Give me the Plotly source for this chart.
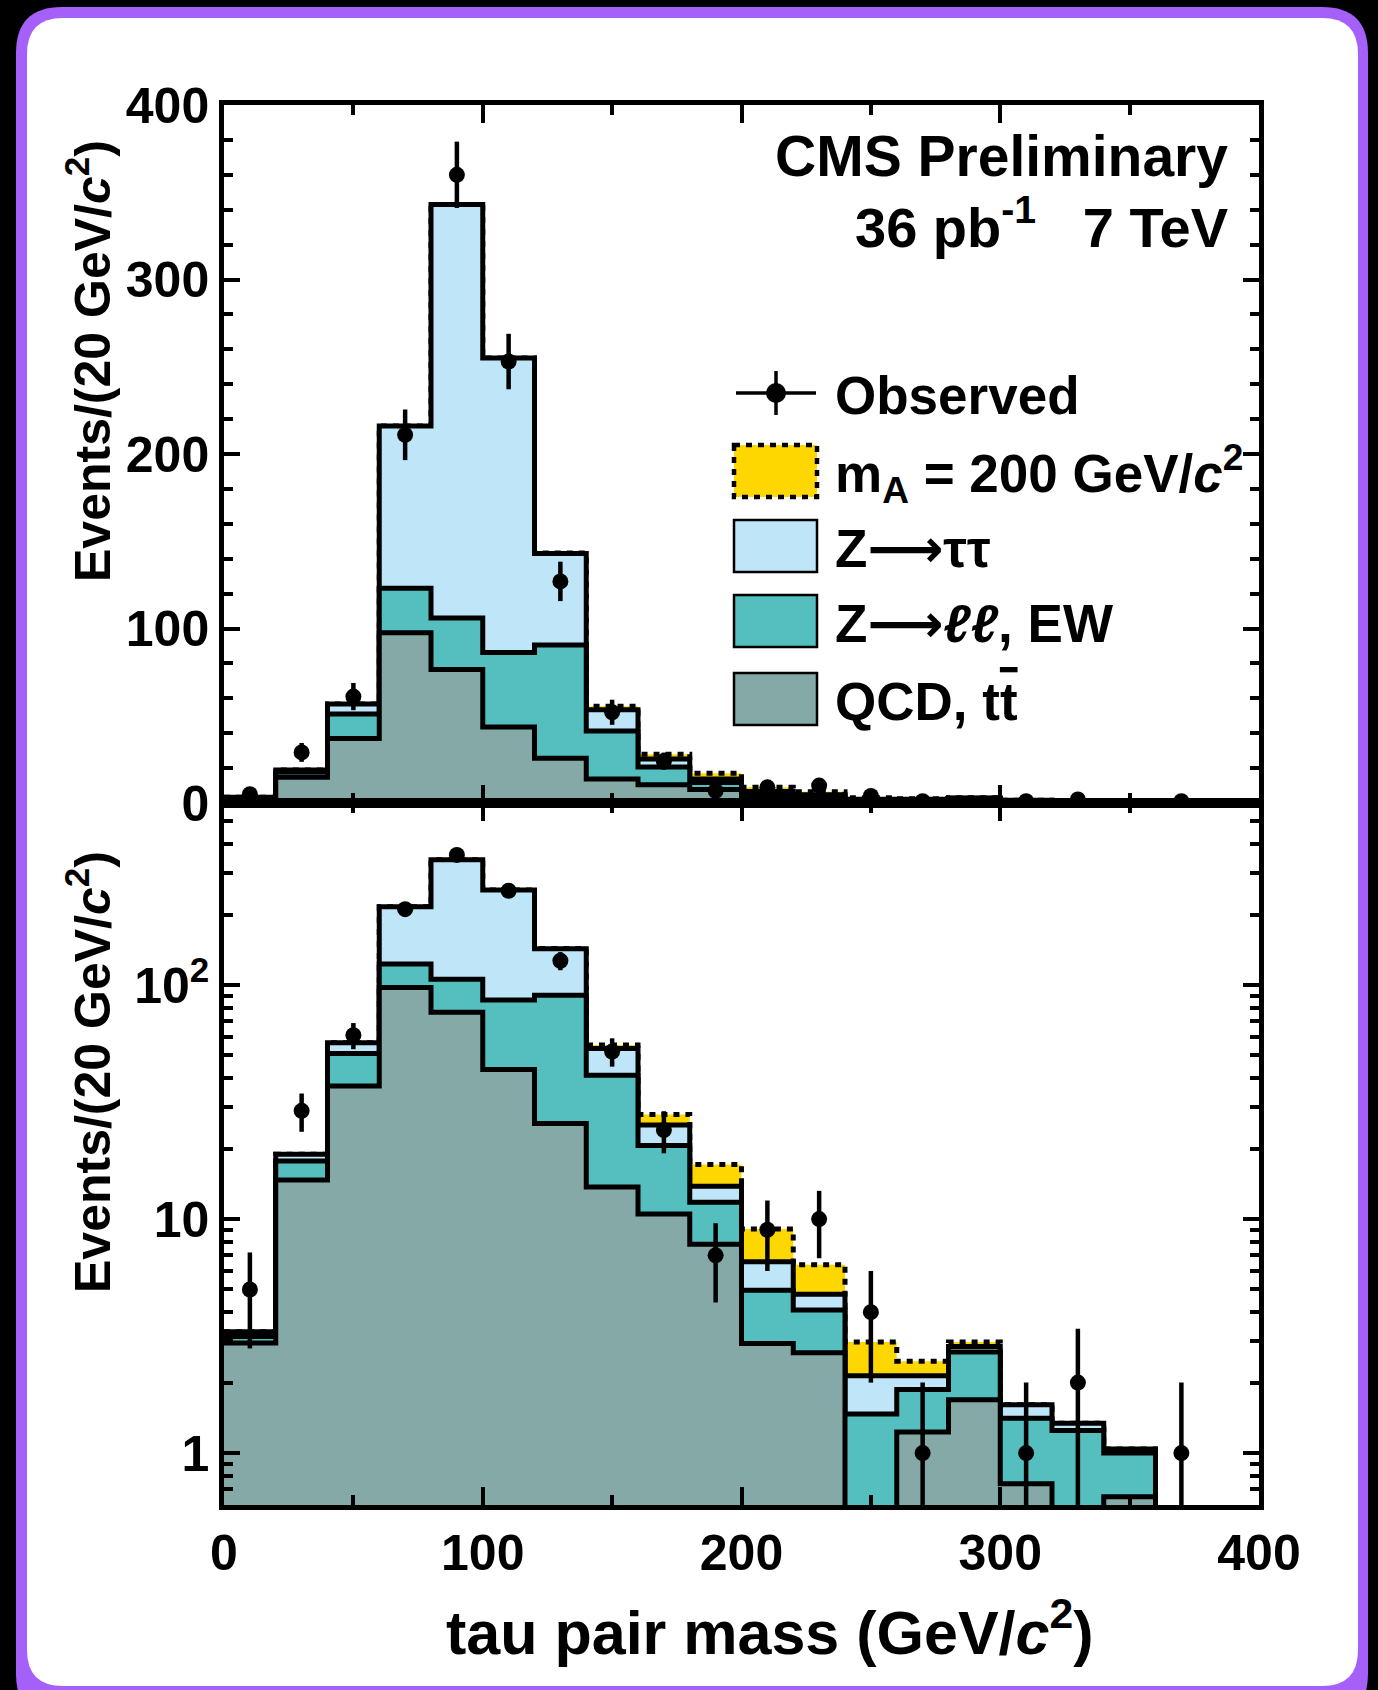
import numpy as np
import plotly.graph_objects as go
from plotly.subplots import make_subplots

# ---------------- data ----------------
mass_edges = [0, 20, 40, 60, 80, 100, 120, 140, 160, 180, 200,
              220, 240, 260, 280, 300, 320, 340, 360, 380, 400]
qcd_ttbar = [2.95, 14.7, 37.0, 97.5, 76.5, 43.6, 25.6, 13.7, 10.5, 7.8,
             2.94, 2.68, 0.0, 1.23, 1.69, 0.74, 0.0, 0.65, 0.0, 0.0]
zll_ew = [0.20, 3.0, 14.0, 25.5, 29.5, 42.7, 64.9, 27.5, 10.1, 4.0,
          2.02, 1.41, 1.47, 0.64, 1.01, 0.67, 1.25, 0.35, 0.0, 0.0]
ztautau = [0.15, 1.2, 5.7, 93.0, 237.0, 168.7, 52.5, 12.3, 4.6, 2.0,
           1.61, 0.68, 0.67, 0.27, 0.15, 0.20, 0.09, 0.04, 0.0, 0.0]
signal_mA200 = [0.0, 0.0, 0.0, 0.0, 0.0, 0.0, 0.3, 2.0, 2.8, 3.3,
                2.5, 1.61, 0.84, 0.33, 0.13, 0.0, 0.0, 0.0, 0.0, 0.0]
observed = [5, 29, 61, 211, 360, 253, 127, 52, 24, 7,
            9, 10, 4, 1, 0, 1, 2, 0, 1, 0]
observed_err = [2.2, 5.4, 7.8, 14.5, 19.0, 15.9, 11.3, 7.2, 4.9, 2.6,
                3.0, 3.2, 2.0, 1.0, 0.0, 1.0, 1.4, 0.0, 1.0, 0.0]

ARROW = "<span style=\"font-family:'DejaVu Sans'\">\u27f6</span>"
legend_labels = ["Observed",
                 "m<sub>A</sub> = 200 GeV/<i>c</i><sup>2</sup>",
                 "Z" + ARROW + "\u03c4\u03c4",
                 "Z" + ARROW + "<i>\u2113\u2113</i>, EW",
                 "QCD, t<span style=\"text-decoration:overline\">t</span>"]

col_sig = "#FFD700"
col_ztt = "#BEE6F8"
col_zll = "#55BEBE"
col_qcd = "#84A9A6"
FONT = "Liberation Sans"

# stacking
edges = np.array(mass_edges, float)
centers = 0.5 * (edges[:-1] + edges[1:])
c_qcd = np.array(qcd_ttbar)
c_zll = c_qcd + np.array(zll_ew)
c_ztt = c_zll + np.array(ztautau)
c_sig = c_ztt + np.array(signal_mA200)

# ---------------- geometry ----------------
W, H = 1378, 1690
L, R, T, B = 224, 1259, 105, 1505
PW, PH = R - L, B - T


def px(x):
    return (x - L) / PW


def py(y):
    return (B - y) / PH


split = py(803)

fig = make_subplots(rows=2, cols=1, vertical_spacing=0.0)


def step_y(vals, floor=None):
    v = np.array(vals, float)
    if floor is not None:
        v = np.where(v > 0, v, floor)
    return np.append(v, v[-1])


layers = [(c_sig, col_sig, "6px,6px"), (c_ztt, col_ztt, "solid"),
          (c_zll, col_zll, "solid"), (c_qcd, col_qcd, "solid")]

for row, floor in [(1, None), (2, 1e-3)]:
    for vals, col, dash in layers:
        fig.add_trace(go.Scatter(
            x=edges, y=step_y(vals, floor), mode="lines",
            line=dict(shape="hv", color="black", width=5, dash=dash),
            fill="tozeroy", fillcolor=col, showlegend=False, hoverinfo="skip"),
            row=row, col=1)
    obs_y = [v if v > 0 else None for v in observed]
    fig.add_trace(go.Scatter(
        x=centers, y=obs_y, mode="markers",
        marker=dict(color="black", size=16),
        error_y=dict(type="data", array=observed_err, color="black",
                     thickness=4.5, width=0),
        showlegend=False), row=row, col=1)

tickfont = dict(family=FONT, size=50, color="black", weight="bold")
axis_common = dict(showline=True, linewidth=4.5, linecolor="black",
                   mirror="ticks", ticks="inside", tickwidth=4,
                   tickcolor="black", showgrid=False, zeroline=False,
                   tickfont=tickfont)

fig.update_xaxes(range=[0, 400], tick0=0, dtick=100, ticklen=18,
                 minor=dict(dtick=50, tick0=0, ticklen=10, ticks="inside",
                            tickwidth=4, tickcolor="black"),
                 **axis_common)
fig.update_xaxes(showticklabels=False, row=1, col=1)

fig.update_yaxes(range=[0, 400], tick0=0, dtick=100, ticklen=16,
                 minor=dict(dtick=20, tick0=0, ticklen=9, ticks="inside",
                            tickwidth=4, tickcolor="black"),
                 domain=[split, 1.0], row=1, col=1, **axis_common)

minor_log = [0.6, 0.7, 0.8, 0.9] + [k for k in range(2, 10)] + \
            [10 * k for k in range(2, 10)] + [100 * k for k in range(2, 7)]
fig.update_yaxes(type="log", range=[-0.222, 2.778],
                 tickmode="array", tickvals=[1, 10, 100],
                 ticktext=["1", "10", "10<sup>2</sup>"], ticklen=16,
                 minor=dict(tickmode="array", tickvals=minor_log, ticklen=9,
                            ticks="inside", tickwidth=4, tickcolor="black"),
                 domain=[0.0, split], row=2, col=1, **axis_common)


# ---------------- frame (rounded purple border) ----------------
def rounded_path(x0, y0, x1, y1, r):
    pts = [("M", [(x0 + r, y0)]), ("L", [(x1 - r, y0)]),
           ("Q", [(x1, y0), (x1, y0 + r)]), ("L", [(x1, y1 - r)]),
           ("Q", [(x1, y1), (x1 - r, y1)]), ("L", [(x0 + r, y1)]),
           ("Q", [(x0, y1), (x0, y1 - r)]), ("L", [(x0, y0 + r)]),
           ("Q", [(x0, y0), (x0 + r, y0)])]
    s = ""
    for cmd, ps in pts:
        s += cmd + " " + " ".join(f"{px(a):.5f},{py(b):.5f}" for a, b in ps) + " "
    return s + "Z"


shapes = [
    dict(type="path", xref="paper", yref="paper", layer="below",
         path=rounded_path(16, 7, 1368, 1720, 46), fillcolor="#A560FA",
         line=dict(width=0)),
    dict(type="path", xref="paper", yref="paper", layer="below",
         path=rounded_path(27, 18, 1358, 1686, 36), fillcolor="white",
         line=dict(width=0)),
]

# ---------------- custom legend ----------------
row_y = [393, 471, 546, 621, 699]
bx0, bx1 = 734, 817
shapes.append(dict(type="line", xref="paper", yref="paper",
                   x0=px(bx0 + 2), x1=px(bx1 - 1), y0=py(row_y[0]), y1=py(row_y[0]),
                   line=dict(color="black", width=3.5)))
shapes.append(dict(type="line", xref="paper", yref="paper",
                   x0=px(776), x1=px(776), y0=py(row_y[0] - 22), y1=py(row_y[0] + 22),
                   line=dict(color="black", width=3.5)))
shapes.append(dict(type="circle", xref="paper", yref="paper",
                   x0=px(776 - 10), x1=px(776 + 10), y0=py(row_y[0] - 10),
                   y1=py(row_y[0] + 10), fillcolor="black", line=dict(width=0)))
box_styles = [(col_sig, "6px,6px", 4.5), (col_ztt, "solid", 2.5),
              (col_zll, "solid", 2.5), (col_qcd, "solid", 2.5)]
for yc, (fc, dash, lw) in zip(row_y[1:], box_styles):
    shapes.append(dict(type="rect", xref="paper", yref="paper",
                       x0=px(bx0), x1=px(bx1), y0=py(yc - 26), y1=py(yc + 26),
                       fillcolor=fc, line=dict(color="black", width=lw, dash=dash)))

annotations = []
for yc, lab in zip(row_y, legend_labels):
    annotations.append(dict(x=px(833), y=py(yc + 2), xref="paper", yref="paper",
                            text=lab, showarrow=False, xanchor="left", yanchor="middle",
                            font=dict(family=FONT, size=53, color="black", weight="bold")))

annotations += [
    dict(x=px(1230), y=py(156), xref="paper", yref="paper", text="CMS Preliminary",
         showarrow=False, xanchor="right", yanchor="middle",
         font=dict(family=FONT, size=57, color="black", weight="bold")),
    dict(x=px(1230), y=py(224), xref="paper", yref="paper",
         text="36 pb<sup>-1</sup>\u00a0\u00a0 7 TeV",
         showarrow=False, xanchor="right", yanchor="middle",
         font=dict(family=FONT, size=56, color="black", weight="bold")),
    dict(x=px(770), y=py(1628), xref="paper", yref="paper",
         text="tau pair mass (GeV/<i>c</i><sup>2</sup>)",
         showarrow=False, xanchor="center", yanchor="middle",
         font=dict(family=FONT, size=61, color="black", weight="bold")),
    dict(x=px(89), y=py(361), xref="paper", yref="paper", textangle=-90,
         text="Events/(20 GeV/<i>c</i><sup>2</sup>)",
         showarrow=False, xanchor="center", yanchor="middle",
         font=dict(family=FONT, size=50, color="black", weight="bold")),
    dict(x=px(89), y=py(1072), xref="paper", yref="paper", textangle=-90,
         text="Events/(20 GeV/<i>c</i><sup>2</sup>)",
         showarrow=False, xanchor="center", yanchor="middle",
         font=dict(family=FONT, size=50, color="black", weight="bold")),
]

fig.update_layout(
    width=W, height=H, autosize=False,
    margin=dict(l=L, r=W - R, t=T, b=H - B, pad=0),
    paper_bgcolor="black", plot_bgcolor="rgba(0,0,0,0)",
    shapes=shapes, annotations=annotations, showlegend=False,
    font=dict(family=FONT, color="black"),
)

fig.write_html("out.html")
